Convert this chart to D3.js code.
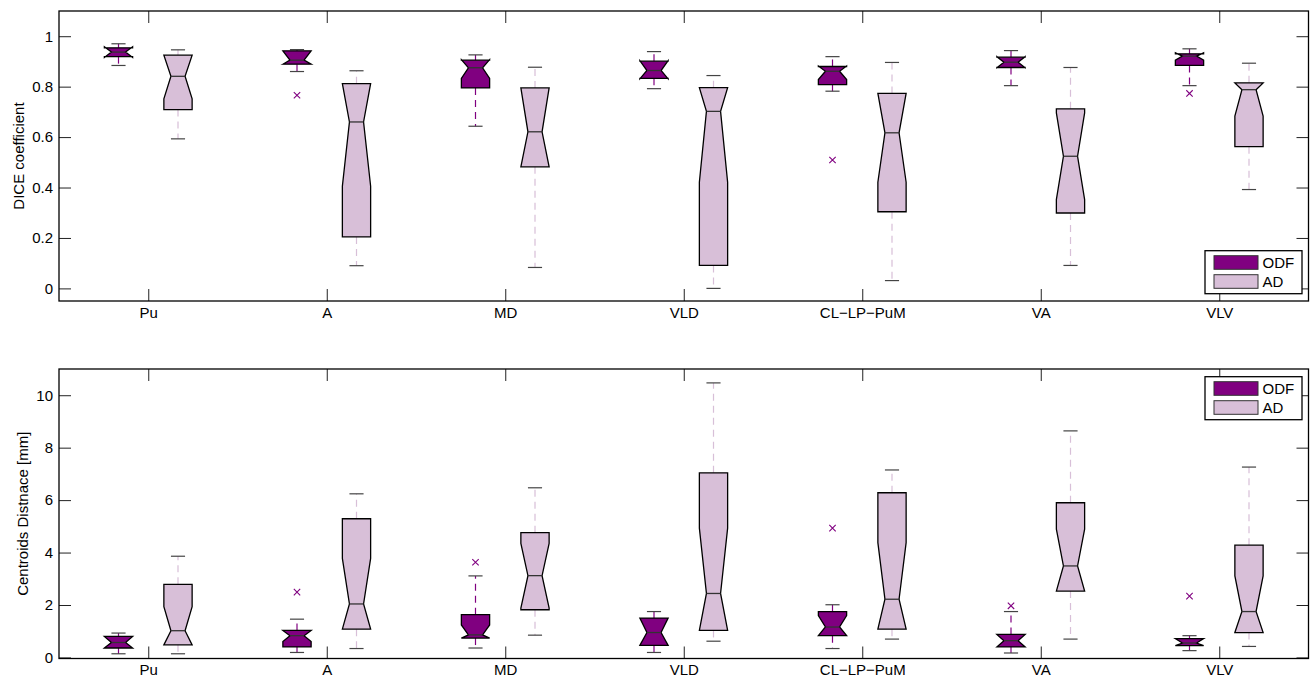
<!DOCTYPE html>
<html><head><meta charset="utf-8">
<script src="https://cdn.jsdelivr.net/npm/d3@7"></script>
<style>
body{margin:0;background:#fff}
text{font-family:"Liberation Sans",Arial,Helvetica,sans-serif}
</style>
</head><body>
<svg id="c" width="1312" height="682"></svg>
<script>
// ---------- data ----------
const categories = ["Pu", "A", "MD", "VLD", "CL\u2212LP\u2212PuM", "VA", "VLV"];
const seriesNames = ["ODF", "AD"];

// each row: [whiskerLo, q1, notchLo, median, notchHi, q3, whiskerHi]
const diceODF = [
  [0.884, 0.919, 0.916, 0.937, 0.958, 0.954, 0.970],
  [0.860, 0.889, 0.889, 0.905, 0.942, 0.942, 0.947],
  [0.643, 0.795, 0.833, 0.875, 0.907, 0.905, 0.926],
  [0.792, 0.833, 0.831, 0.864, 0.903, 0.901, 0.939],
  [0.782, 0.808, 0.828, 0.861, 0.882, 0.880, 0.919],
  [0.804, 0.876, 0.875, 0.897, 0.919, 0.917, 0.943],
  [0.804, 0.884, 0.905, 0.921, 0.934, 0.930, 0.950]
];
const diceODFOutliers = [[], [0.766], [], [], [0.509], [], [0.773]];
const diceAD = [
  [0.593, 0.709, 0.752, 0.841, 0.925, 0.925, 0.946],
  [0.090, 0.204, 0.405, 0.660, 0.812, 0.812, 0.863],
  [0.083, 0.482, 0.482, 0.621, 0.795, 0.795, 0.877],
  [0.000, 0.091, 0.421, 0.702, 0.796, 0.796, 0.844],
  [0.031, 0.304, 0.421, 0.617, 0.773, 0.773, 0.896],
  [0.091, 0.299, 0.352, 0.524, 0.696, 0.712, 0.876],
  [0.392, 0.562, 0.683, 0.788, 0.815, 0.815, 0.893]
];
const diceADOutliers = [[], [], [], [], [], [], []];

const distODF = [
  [0.14, 0.36, 0.36, 0.57, 0.80, 0.80, 0.93],
  [0.19, 0.40, 0.61, 0.83, 1.03, 1.03, 1.46],
  [0.36, 0.74, 0.74, 0.86, 1.24, 1.63, 3.11],
  [0.19, 0.46, 0.46, 0.95, 1.50, 1.50, 1.75],
  [0.34, 0.83, 0.83, 1.16, 1.60, 1.75, 2.01],
  [0.17, 0.40, 0.40, 0.64, 0.88, 0.88, 1.75],
  [0.26, 0.45, 0.45, 0.55, 0.72, 0.72, 0.83]
];
const distODFOutliers = [[], [2.49], [3.63], [], [4.93], [1.97], [2.34]];
const distAD = [
  [0.14, 0.48, 0.48, 1.02, 1.94, 2.79, 3.86],
  [0.34, 1.08, 1.08, 2.04, 3.78, 5.29, 6.24],
  [0.85, 1.82, 1.88, 3.12, 4.35, 4.76, 6.47],
  [0.62, 1.03, 1.03, 2.44, 4.93, 7.04, 10.47],
  [0.70, 1.08, 1.08, 2.22, 4.38, 6.28, 7.15],
  [0.70, 2.53, 2.53, 3.49, 4.89, 5.90, 8.64],
  [0.42, 0.95, 0.95, 1.75, 3.11, 4.28, 7.26]
];
const distADOutliers = [[], [], [], [], [], [], []];

const diceTicks = [0, 0.2, 0.4, 0.6, 0.8, 1];
const diceTickLabels = ["0", "0.2", "0.4", "0.6", "0.8", "1"];
const distTicks = [0, 2, 4, 6, 8, 10];
const distTickLabels = ["0", "2", "4", "6", "8", "10"];

// ---------- style ----------
const fills = ["#800080", "#d8bfd8"];
const whiskerColors = ["#800080", "#d8bfd8"];
const outlierColor = "#800080";
const FONT = 15;

const svg = d3.select("#c");
const W = 1312;
const xLeft = 59, xRight = 1308.5;
const x = d3.scaleLinear().domain([0, 21]).range([xLeft, xRight]);
// box positions: group i -> 3i+1 (ODF), 3i+2 (AD); tick at 3i+1.5
const pos = (i, s) => 3 * i + 1 + s;
const tickPos = categories.map((c, i) => 3 * i + 1.5);

function drawPanel(opt) {
  const g = svg.append("g");
  const y = d3.scaleLinear().domain(opt.domain).range([opt.y1, opt.y0]);
  const hw = (x(0.475) - x(0)) / 2;   // half box width
  const capHw = hw * 0.5;

  // y axis left
  const ya = g.append("g").attr("transform", `translate(${xLeft},0)`)
    .call(d3.axisLeft(y).tickValues(opt.ticks).tickSize(-12).tickPadding(6)
      .tickFormat((d, i) => opt.tickLabels[i]));
  // y axis right
  const yr = g.append("g").attr("transform", `translate(${xRight},0)`)
    .call(d3.axisRight(y).tickValues(opt.ticks).tickSize(-12).tickFormat(""));
  // x axis bottom
  const xb = g.append("g").attr("transform", `translate(0,${opt.y1})`)
    .call(d3.axisBottom(x).tickValues(tickPos).tickSize(-12).tickPadding(6)
      .tickFormat((d, i) => categories[i]));
  const xt = g.append("g").attr("transform", `translate(0,${opt.y0})`)
    .call(d3.axisTop(x).tickValues(tickPos).tickSize(-12).tickFormat(""));
  [ya, yr, xb, xt].forEach(a => {
    a.select(".domain").remove();
    a.selectAll(".tick line").attr("stroke", "#222").attr("stroke-width", 1);
    a.selectAll("text").attr("font-size", FONT).attr("fill", "#000")
      .attr("font-family", '"Liberation Sans",Arial,sans-serif');
  });

  // frame
  g.append("rect").attr("x", xLeft).attr("y", opt.y0)
    .attr("width", xRight - xLeft).attr("height", opt.y1 - opt.y0)
    .attr("fill", "none").attr("stroke", "#000").attr("stroke-width", 1.3);

  // y label
  g.append("text")
    .attr("transform", `translate(${opt.labelX},${(opt.y0 + opt.y1) / 2}) rotate(-90)`)
    .attr("text-anchor", "middle").attr("font-size", FONT).text(opt.label);

  const series = [opt.odf, opt.ad];
  const outl = [opt.odfOut, opt.adOut];
  series.forEach((rows, s) => {
    const bg = g.append("g");
    rows.forEach((r, i) => {
      const cx = x(pos(i, s));
      const [wlo, q1, nlo, med, nhi, q3, whi] = r;
      // whiskers
      bg.append("line").attr("x1", cx).attr("x2", cx)
        .attr("y1", y(q3)).attr("y2", y(whi))
        .attr("stroke", whiskerColors[s]).attr("stroke-width", 1.2)
        .attr("stroke-dasharray", "7,5");
      bg.append("line").attr("x1", cx).attr("x2", cx)
        .attr("y1", y(q1)).attr("y2", y(wlo))
        .attr("stroke", whiskerColors[s]).attr("stroke-width", 1.2)
        .attr("stroke-dasharray", "7,5");
      // caps
      [wlo, whi].forEach(v => {
        bg.append("line").attr("x1", cx - capHw).attr("x2", cx + capHw)
          .attr("y1", y(v)).attr("y2", y(v))
          .attr("stroke", "#444").attr("stroke-width", 1.2);
      });
      // notched box
      const pts = [
        [cx - hw, y(q1)], [cx - hw, y(nlo)], [cx - hw / 2, y(med)], [cx - hw, y(nhi)],
        [cx - hw, y(q3)], [cx + hw, y(q3)], [cx + hw, y(nhi)], [cx + hw / 2, y(med)],
        [cx + hw, y(nlo)], [cx + hw, y(q1)]
      ];
      bg.append("path").attr("d", d3.line()(pts) + "Z")
        .attr("fill", fills[s]).attr("stroke", "#000").attr("stroke-width", 1.3)
        .attr("stroke-linejoin", "miter");
      // median
      bg.append("line").attr("x1", cx - hw / 2).attr("x2", cx + hw / 2)
        .attr("y1", y(med)).attr("y2", y(med))
        .attr("stroke", "#333").attr("stroke-width", 1.3);
      // outliers
      outl[s][i].forEach(v => {
        const oy = y(v), r2 = 3.2;
        bg.append("path")
          .attr("d", `M${cx - r2},${oy - r2}L${cx + r2},${oy + r2}M${cx - r2},${oy + r2}L${cx + r2},${oy - r2}`)
          .attr("stroke", outlierColor).attr("stroke-width", 1.1).attr("fill", "none");
      });
    });
  });

  // legend
  const lg = g.append("g");
  const lx = 1205, lw = 97, lh = 43;
  const ly = opt.legendTop;
  lg.append("rect").attr("x", lx).attr("y", ly).attr("width", lw).attr("height", lh)
    .attr("fill", "#fff").attr("stroke", "#000").attr("stroke-width", 1.3);
  seriesNames.forEach((n, k) => {
    const sy = ly + 5 + k * 19;
    lg.append("rect").attr("x", lx + 9).attr("y", sy).attr("width", 44).attr("height", 13.6)
      .attr("fill", fills[k]).attr("stroke", "#333").attr("stroke-width", 1);
    lg.append("text").attr("x", lx + 57.5).attr("y", sy + 6.8).attr("dy", "0.36em")
      .attr("font-size", FONT).text(n);
  });
}

drawPanel({
  y0: 11, y1: 301, domain: [-0.05, 1.1],
  ticks: diceTicks, tickLabels: diceTickLabels,
  odf: diceODF, ad: diceAD, odfOut: diceODFOutliers, adOut: diceADOutliers,
  label: "DICE coefficient", labelX: 24, legendTop: 250.7
});
drawPanel({
  y0: 369, y1: 658.5, domain: [-0.04, 11],
  ticks: distTicks, tickLabels: distTickLabels,
  odf: distODF, ad: distAD, odfOut: distODFOutliers, adOut: distADOutliers,
  label: "Centroids Distnace [mm]", labelX: 28, legendTop: 376.7
});
</script>
</body></html>
